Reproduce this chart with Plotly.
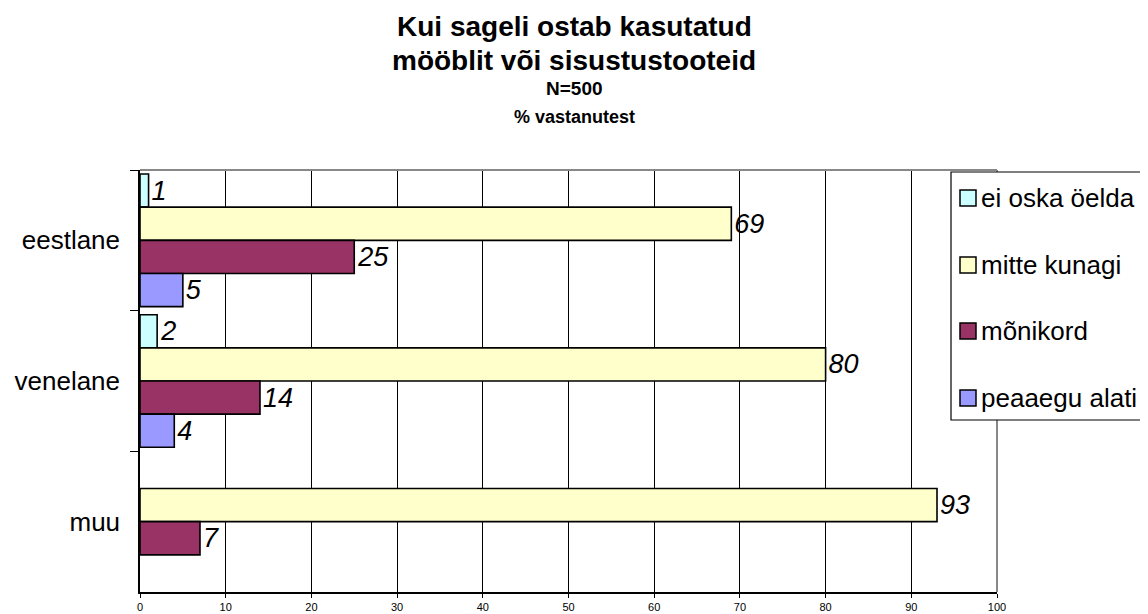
import plotly.graph_objects as go

categories = ["eestlane", "venelane", "muu"]
series_names = ["ei oska öelda", "mitte kunagi", "mõnikord", "peaaegu alati"]
ei_oska = [1, 2, None]
mitte_kunagi = [69, 80, 93]
monikord = [25, 14, 7]
peaaegu_alati = [5, 4, None]
colors = ["#CCFFFF", "#FFFFCC", "#993366", "#9999FF"]
x_ticks = [0, 10, 20, 30, 40, 50, 60, 70, 80, 90, 100]
title_lines = ["Kui sageli ostab kasutatud", "mööblit või sisustustooteid", "N=500", "% vastanutest"]

values = [ei_oska, mitte_kunagi, monikord, peaaegu_alati]

# the page body has an 8px default margin; figure is sized/offset to compensate
OFF = 8
W, H = 1148 - OFF, 614 - OFF
L, T = 140 - OFF, 170 - OFF
R = W - (997 - OFF)
B = H - (592 - OFF)
PW, PH = W - L - R, H - T - B


def px2x(px):
    return (px - OFF - L) / PW


def py2y(py):
    return (H - B - (py - OFF)) / PH


fig = go.Figure()
for i, (name, vals, col) in enumerate(zip(series_names, values, colors)):
    fig.add_trace(go.Bar(
        y=categories, x=vals, name=name, orientation="h",
        marker=dict(color=col, line=dict(color="black", width=1.6)),
        text=[("" if v is None else str(v)) for v in vals],
        textposition="outside",
        textfont=dict(family="Arial", size=27, color="black", style="italic"),
        cliponaxis=False,
        showlegend=False,
    ))

fig.update_layout(
    width=W, height=H,
    margin=dict(l=L, r=R, t=T, b=B),
    paper_bgcolor="white", plot_bgcolor="white",
    barmode="group", bargap=0.057, bargroupgap=0,
    font=dict(family="Arial", color="black"),
    showlegend=False,
    xaxis=dict(
        range=[0, 100], tickvals=x_ticks, showgrid=True, gridcolor="black", gridwidth=1,
        showline=True, linecolor="black", linewidth=1.5, ticks="outside", ticklen=4,
        tickcolor="black", tickfont=dict(family="Arial", size=11, color="black"),
        zeroline=False, automargin=False,
    ),
    yaxis=dict(
        autorange="reversed", showline=True, linecolor="black", linewidth=1.5,
        ticks="outside", ticklen=8, tickcolor="black", tickson="boundaries",
        tickfont=dict(family="Arial", size=26, color="black"), showgrid=False,
        automargin=False, ticklabelstandoff=13,
    ),
)

# title as annotations
title_specs = [(title_lines[0], 28, 26), (title_lines[1], 28, 60),
               (title_lines[2], 19, 89), (title_lines[3], 18, 117)]
for txt, size, py in title_specs:
    fig.add_annotation(text="<b>%s</b>" % txt, xref="paper", yref="paper",
                       x=px2x(574), y=py2y(py), xanchor="center", yanchor="middle",
                       showarrow=False, borderpad=0,
                       font=dict(family="Arial", size=size, color="black"))

# gray plot-area border (top and right)
fig.add_shape(type="line", xref="paper", yref="paper", x0=0, x1=1, y0=1, y1=1,
              line=dict(color="#888888", width=2))
fig.add_shape(type="line", xref="paper", yref="paper", x0=1, x1=1, y0=0, y1=1,
              line=dict(color="#888888", width=2))

# legend box (extends past the right edge, as in the reference)
fig.add_shape(type="rect", xref="paper", yref="paper",
              x0=px2x(951), x1=px2x(1170), y0=py2y(420), y1=py2y(172),
              line=dict(color="black", width=1.2), fillcolor="white", layer="above")
legend_rows = [198, 265, 331, 398]
for name, col, py in zip(series_names, colors, legend_rows):
    fig.add_shape(type="rect", xref="paper", yref="paper",
                  x0=px2x(960), x1=px2x(976), y0=py2y(py + 8), y1=py2y(py - 8),
                  line=dict(color="black", width=1.5), fillcolor=col, layer="above")
    fig.add_annotation(text=name, xref="paper", yref="paper",
                       x=px2x(979), y=py2y(py), xanchor="left", yanchor="middle",
                       showarrow=False, font=dict(family="Arial", size=26, color="black"))

fig.write_html("out.html")
